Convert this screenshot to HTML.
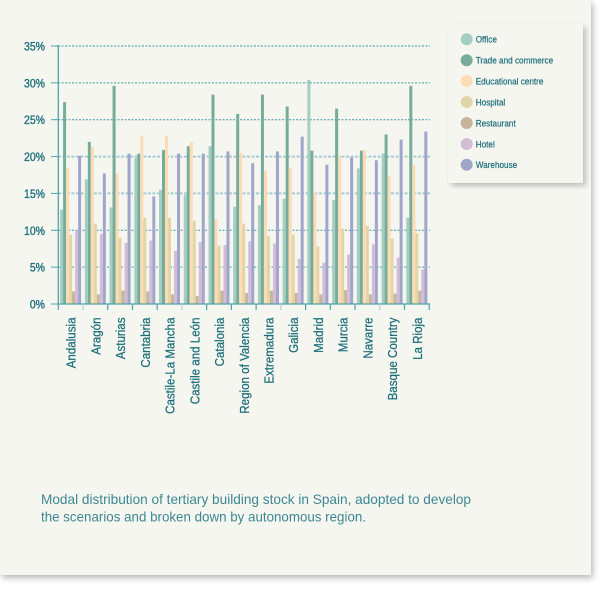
<!DOCTYPE html>
<html>
<head>
<meta charset="utf-8">
<style>
  html,body{margin:0;padding:0;background:#ffffff;}
  body{width:600px;height:593px;position:relative;overflow:hidden;}
  .panel{position:absolute;left:0;top:0;width:591px;height:575px;background:#f6f6f1;box-shadow:2px 3px 6px rgba(0,0,0,0.28);}
  .legend{position:absolute;left:448px;top:24px;width:135px;height:159px;background:#f6f6f1;box-shadow:3px 3px 5px rgba(0,0,0,0.22);}
  svg{position:absolute;left:0;top:0;}
  text{font-family:"Liberation Sans",Arial,sans-serif;}
  .o{fill:#a4cec1}.t{fill:#77ab9a}.e{fill:#fddbb4}.h{fill:#e2d6a9}.r{fill:#c6b49b}.ho{fill:#d3bdd6}.w{fill:#a0a6cb}
</style>
</head>
<body>
<div class="panel"></div>
<div class="legend"></div>
<svg width="600" height="593" viewBox="0 0 600 593" xmlns="http://www.w3.org/2000/svg">
  <!-- gridlines -->
  <g stroke="#3f9aa3" stroke-width="1" stroke-dasharray="2 1.5" fill="none">
    <line x1="58" y1="46" x2="430" y2="46"/>
    <line x1="58" y1="82.86" x2="430" y2="82.86"/>
    <line x1="58" y1="119.71" x2="430" y2="119.71"/>
    <line x1="58" y1="230.29" x2="430" y2="230.29"/>
    <line x1="58" y1="267.14" x2="430" y2="267.14"/>
  </g>
  <g stroke="#a5ccd0" stroke-width="2" stroke-dasharray="3 1.5" fill="none">
    <line x1="58" y1="156.57" x2="430" y2="156.57"/>
    <line x1="58" y1="193.43" x2="430" y2="193.43"/>
  </g>
  <!-- y ticks -->
  <g stroke="#4da3aa" stroke-width="1">
    <line x1="51" y1="46" x2="58" y2="46"/>
    <line x1="51" y1="82.86" x2="58" y2="82.86"/>
    <line x1="51" y1="119.71" x2="58" y2="119.71"/>
    <line x1="51" y1="156.57" x2="58" y2="156.57"/>
    <line x1="51" y1="193.43" x2="58" y2="193.43"/>
    <line x1="51" y1="230.29" x2="58" y2="230.29"/>
    <line x1="51" y1="267.14" x2="58" y2="267.14"/>
    <line x1="51" y1="304" x2="58" y2="304"/>
  </g>

  <!-- bars -->
  <g transform="translate(60.1,304) scale(1,-7.371)"><rect class="o" x="0" y="0" width="3" height="12.8"/><rect class="t" x="3" y="0" width="3" height="27.4"/><rect class="e" x="6" y="0" width="3" height="18.4"/><rect class="h" x="9" y="0" width="3" height="9.4"/><rect class="r" x="12" y="0" width="3" height="1.7"/><rect class="ho" x="15" y="0" width="3" height="9.9"/><rect class="w" x="18" y="0" width="3" height="20.1"/></g>
  <g transform="translate(84.83,304) scale(1,-7.371)"><rect class="o" x="0" y="0" width="3" height="16.9"/><rect class="t" x="3" y="0" width="3" height="22.0"/><rect class="e" x="6" y="0" width="3" height="21.3"/><rect class="h" x="9" y="0" width="3" height="10.9"/><rect class="r" x="12" y="0" width="3" height="1.3"/><rect class="ho" x="15" y="0" width="3" height="9.5"/><rect class="w" x="18" y="0" width="3" height="17.7"/></g>
  <g transform="translate(109.56,304) scale(1,-7.371)"><rect class="o" x="0" y="0" width="3" height="13.1"/><rect class="t" x="3" y="0" width="3" height="29.6"/><rect class="e" x="6" y="0" width="3" height="17.7"/><rect class="h" x="9" y="0" width="3" height="9.0"/><rect class="r" x="12" y="0" width="3" height="1.8"/><rect class="ho" x="15" y="0" width="3" height="8.3"/><rect class="w" x="18" y="0" width="3" height="20.4"/></g>
  <g transform="translate(134.29,304) scale(1,-7.371)"><rect class="o" x="0" y="0" width="3" height="19.8"/><rect class="t" x="3" y="0" width="3" height="20.4"/><rect class="e" x="6" y="0" width="3" height="22.8"/><rect class="h" x="9" y="0" width="3" height="11.7"/><rect class="r" x="12" y="0" width="3" height="1.7"/><rect class="ho" x="15" y="0" width="3" height="8.6"/><rect class="w" x="18" y="0" width="3" height="14.6"/></g>
  <g transform="translate(159.02,304) scale(1,-7.371)"><rect class="o" x="0" y="0" width="3" height="15.5"/><rect class="t" x="3" y="0" width="3" height="20.9"/><rect class="e" x="6" y="0" width="3" height="22.8"/><rect class="h" x="9" y="0" width="3" height="11.7"/><rect class="r" x="12" y="0" width="3" height="1.3"/><rect class="ho" x="15" y="0" width="3" height="7.2"/><rect class="w" x="18" y="0" width="3" height="20.4"/></g>
  <g transform="translate(183.75,304) scale(1,-7.371)"><rect class="o" x="0" y="0" width="3" height="14.8"/><rect class="t" x="3" y="0" width="3" height="21.4"/><rect class="e" x="6" y="0" width="3" height="22.0"/><rect class="h" x="9" y="0" width="3" height="11.3"/><rect class="r" x="12" y="0" width="3" height="1.1"/><rect class="ho" x="15" y="0" width="3" height="8.4"/><rect class="w" x="18" y="0" width="3" height="20.4"/></g>
  <g transform="translate(208.48,304) scale(1,-7.371)"><rect class="o" x="0" y="0" width="3" height="21.4"/><rect class="t" x="3" y="0" width="3" height="28.4"/><rect class="e" x="6" y="0" width="3" height="11.5"/><rect class="h" x="9" y="0" width="3" height="7.9"/><rect class="r" x="12" y="0" width="3" height="1.8"/><rect class="ho" x="15" y="0" width="3" height="8.0"/><rect class="w" x="18" y="0" width="3" height="20.7"/></g>
  <g transform="translate(233.21,304) scale(1,-7.371)"><rect class="o" x="0" y="0" width="3" height="13.2"/><rect class="t" x="3" y="0" width="3" height="25.8"/><rect class="e" x="6" y="0" width="3" height="20.5"/><rect class="h" x="9" y="0" width="3" height="10.9"/><rect class="r" x="12" y="0" width="3" height="1.5"/><rect class="ho" x="15" y="0" width="3" height="8.5"/><rect class="w" x="18" y="0" width="3" height="19.1"/></g>
  <g transform="translate(257.94,304) scale(1,-7.371)"><rect class="o" x="0" y="0" width="3" height="13.4"/><rect class="t" x="3" y="0" width="3" height="28.4"/><rect class="e" x="6" y="0" width="3" height="18.1"/><rect class="h" x="9" y="0" width="3" height="9.2"/><rect class="r" x="12" y="0" width="3" height="1.8"/><rect class="ho" x="15" y="0" width="3" height="8.2"/><rect class="w" x="18" y="0" width="3" height="20.7"/></g>
  <g transform="translate(282.67,304) scale(1,-7.371)"><rect class="o" x="0" y="0" width="3" height="14.3"/><rect class="t" x="3" y="0" width="3" height="26.8"/><rect class="e" x="6" y="0" width="3" height="18.5"/><rect class="h" x="9" y="0" width="3" height="9.4"/><rect class="r" x="12" y="0" width="3" height="1.5"/><rect class="ho" x="15" y="0" width="3" height="6.1"/><rect class="w" x="18" y="0" width="3" height="22.7"/></g>
  <g transform="translate(307.4,304) scale(1,-7.371)"><rect class="o" x="0" y="0" width="3" height="30.4"/><rect class="t" x="3" y="0" width="3" height="20.8"/><rect class="e" x="6" y="0" width="3" height="15.1"/><rect class="h" x="9" y="0" width="3" height="7.8"/><rect class="r" x="12" y="0" width="3" height="1.3"/><rect class="ho" x="15" y="0" width="3" height="5.6"/><rect class="w" x="18" y="0" width="3" height="18.9"/></g>
  <g transform="translate(332.13,304) scale(1,-7.371)"><rect class="o" x="0" y="0" width="3" height="14.1"/><rect class="t" x="3" y="0" width="3" height="26.5"/><rect class="e" x="6" y="0" width="3" height="20.1"/><rect class="h" x="9" y="0" width="3" height="10.2"/><rect class="r" x="12" y="0" width="3" height="1.9"/><rect class="ho" x="15" y="0" width="3" height="6.7"/><rect class="w" x="18" y="0" width="3" height="19.9"/></g>
  <g transform="translate(356.86,304) scale(1,-7.371)"><rect class="o" x="0" y="0" width="3" height="18.4"/><rect class="t" x="3" y="0" width="3" height="20.8"/><rect class="e" x="6" y="0" width="3" height="20.9"/><rect class="h" x="9" y="0" width="3" height="10.6"/><rect class="r" x="12" y="0" width="3" height="1.3"/><rect class="ho" x="15" y="0" width="3" height="8.1"/><rect class="w" x="18" y="0" width="3" height="19.5"/></g>
  <g transform="translate(381.59,304) scale(1,-7.371)"><rect class="o" x="0" y="0" width="3" height="20.4"/><rect class="t" x="3" y="0" width="3" height="23.0"/><rect class="e" x="6" y="0" width="3" height="17.4"/><rect class="h" x="9" y="0" width="3" height="8.9"/><rect class="r" x="12" y="0" width="3" height="1.4"/><rect class="ho" x="15" y="0" width="3" height="6.3"/><rect class="w" x="18" y="0" width="3" height="22.3"/></g>
  <g transform="translate(406.32,304) scale(1,-7.371)"><rect class="o" x="0" y="0" width="3" height="11.7"/><rect class="t" x="3" y="0" width="3" height="29.6"/><rect class="e" x="6" y="0" width="3" height="18.9"/><rect class="h" x="9" y="0" width="3" height="9.6"/><rect class="r" x="12" y="0" width="3" height="1.8"/><rect class="ho" x="15" y="0" width="3" height="4.7"/><rect class="w" x="18" y="0" width="3" height="23.4"/></g>

  <!-- axes -->
  <line x1="58.3" y1="45" x2="58.3" y2="304.5" stroke="#4da3aa" stroke-width="1.3"/>
  <line x1="58" y1="304" x2="430" y2="304" stroke="#4da3aa" stroke-width="1.3"/>
  <g stroke="#4da3aa" stroke-width="1.2">
    <line x1="58.3" y1="304" x2="58.3" y2="310"/>
    <line x1="107.76" y1="304" x2="107.76" y2="310"/>
    <line x1="132.49" y1="304" x2="132.49" y2="310"/>
    <line x1="157.22" y1="304" x2="157.22" y2="310"/>
    <line x1="206.68" y1="304" x2="206.68" y2="310"/>
    <line x1="231.41" y1="304" x2="231.41" y2="310"/>
    <line x1="256.14" y1="304" x2="256.14" y2="310"/>
    <line x1="305.6" y1="304" x2="305.6" y2="310"/>
    <line x1="330.33" y1="304" x2="330.33" y2="310"/>
    <line x1="355.06" y1="304" x2="355.06" y2="310"/>
    <line x1="404.52" y1="304" x2="404.52" y2="310"/>
    <line x1="429.25" y1="304" x2="429.25" y2="310"/>
  </g>
  <g stroke="#a8d3d3" stroke-width="1.2">
    <line x1="83.03" y1="304" x2="83.03" y2="310"/>
    <line x1="181.95" y1="304" x2="181.95" y2="310"/>
    <line x1="280.87" y1="304" x2="280.87" y2="310"/>
    <line x1="379.79" y1="304" x2="379.79" y2="310"/>
  </g>

  <!-- y labels -->
  <g fill="#1b6e79" stroke="#1b6e79" stroke-width="0.35" font-size="12" text-anchor="end">
    <text transform="translate(45,50.5) scale(0.875,1)">35%</text>
    <text transform="translate(45,87.36) scale(0.875,1)">30%</text>
    <text transform="translate(45,124.21) scale(0.875,1)">25%</text>
    <text transform="translate(45,161.07) scale(0.875,1)">20%</text>
    <text transform="translate(45,197.93) scale(0.875,1)">15%</text>
    <text transform="translate(45,234.79) scale(0.875,1)">10%</text>
    <text transform="translate(45,271.64) scale(0.875,1)">5%</text>
    <text transform="translate(45,308.5) scale(0.875,1)">0%</text>
  </g>

  <!-- x labels -->
  <g fill="#1b6e79" stroke="#1b6e79" stroke-width="0.25" font-size="13" text-anchor="end">
    <text transform="translate(75.67,317.5) rotate(-90) scale(0.89,1)">Andalusia</text>
    <text transform="translate(100.4,317.5) rotate(-90) scale(0.89,1)">Aragón</text>
    <text transform="translate(125.13,317.5) rotate(-90) scale(0.89,1)">Asturias</text>
    <text transform="translate(149.86,317.5) rotate(-90) scale(0.89,1)">Cantabria</text>
    <text transform="translate(174.59,317.5) rotate(-90) scale(0.89,1)">Castile-La Mancha</text>
    <text transform="translate(199.32,317.5) rotate(-90) scale(0.89,1)">Castile and León</text>
    <text transform="translate(224.05,317.5) rotate(-90) scale(0.89,1)">Catalonia</text>
    <text transform="translate(248.78,317.5) rotate(-90) scale(0.89,1)">Region of Valencia</text>
    <text transform="translate(273.51,317.5) rotate(-90) scale(0.89,1)">Extremadura</text>
    <text transform="translate(298.24,317.5) rotate(-90) scale(0.89,1)">Galicia</text>
    <text transform="translate(322.97,317.5) rotate(-90) scale(0.89,1)">Madrid</text>
    <text transform="translate(347.7,317.5) rotate(-90) scale(0.89,1)">Murcia</text>
    <text transform="translate(372.43,317.5) rotate(-90) scale(0.89,1)">Navarre</text>
    <text transform="translate(397.16,317.5) rotate(-90) scale(0.89,1)">Basque Country</text>
    <text transform="translate(421.89,317.5) rotate(-90) scale(0.89,1)">La Rioja</text>
  </g>

  <!-- legend -->
  <g>
    <circle cx="466.7" cy="39.3" r="6" fill="#a4cec1"/>
    <circle cx="466.7" cy="60.3" r="6" fill="#77ab9a"/>
    <circle cx="466.7" cy="81" r="6" fill="#fddbb4"/>
    <circle cx="466.7" cy="102" r="6" fill="#e2d6a9"/>
    <circle cx="466.7" cy="123" r="6" fill="#c6b49b"/>
    <circle cx="466.7" cy="144" r="6" fill="#d3bdd6"/>
    <circle cx="466.7" cy="164.7" r="6" fill="#a0a6cb"/>
  </g>
  <g fill="#1b6e79" stroke="#1b6e79" stroke-width="0.2" font-size="9">
    <text transform="translate(475.7,42.6) scale(0.91,1)">Office</text>
    <text transform="translate(475.7,63.6) scale(0.91,1)">Trade and commerce</text>
    <text transform="translate(475.7,84.3) scale(0.91,1)">Educational centre</text>
    <text transform="translate(475.7,105.3) scale(0.91,1)">Hospital</text>
    <text transform="translate(475.7,126.3) scale(0.91,1)">Restaurant</text>
    <text transform="translate(475.7,147.3) scale(0.91,1)">Hotel</text>
    <text transform="translate(475.7,168) scale(0.91,1)">Warehouse</text>
  </g>

  <!-- caption -->
  <g fill="#3d8791" font-size="14">
    <text x="41" y="504" textLength="430" lengthAdjust="spacingAndGlyphs">Modal distribution of tertiary building stock in Spain, adopted to develop</text>
    <text x="41" y="521.7" textLength="325" lengthAdjust="spacingAndGlyphs">the scenarios and broken down by autonomous region.</text>
  </g>
</svg>
</body>
</html>
